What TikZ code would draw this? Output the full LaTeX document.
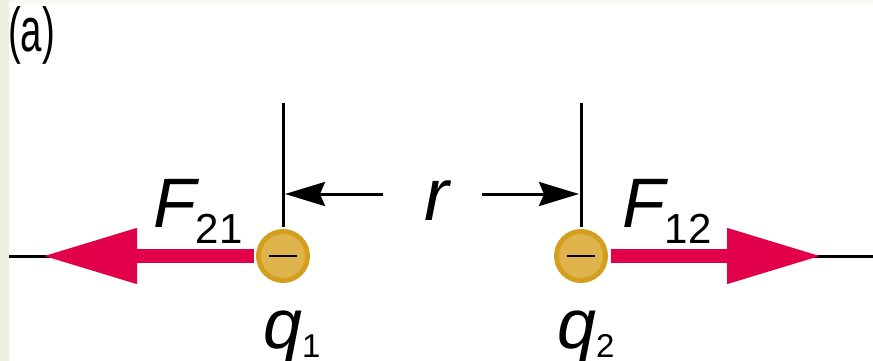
\documentclass[tikz,border=0pt]{standalone}
\usepackage{fontspec}
\setmainfont{Liberation Sans}
\usetikzlibrary{arrows.meta, positioning}
\definecolor{forcered}{RGB}{226,0,74}
\definecolor{chargering}{RGB}{212,158,30}
\definecolor{chargefill}{RGB}{224,180,76}
\definecolor{edgegreen}{RGB}{237,241,222}
\newcommand{\subtxt}[1]{\raisebox{-16pt}{\fontsize{42}{42}\selectfont\upshape #1}}
\newcommand{\qsub}[1]{\raisebox{-9pt}{\fontsize{33}{33}\selectfont\upshape #1}}

\begin{document}
\begin{tikzpicture}[x=1pt, y=-1pt,
  every node/.style={inner sep=0pt, font=\fontsize{70}{70}\selectfont},
  charge/.style={circle, draw=chargering, fill=chargefill, line width=5pt, minimum size=49pt},
  force/.style={forcered, line width=14pt, shorten <=2.5pt, -{Triangle[length=95pt, width=52pt]}},
  gauge/.style={line width=3pt},
  dimline/.style={line width=3pt, -{Stealth[length=40pt, width=24pt, inset=5pt]}}]
  % page and margin strips
  \useasboundingbox (0,0) rectangle (873,361);
  \fill[white] (0,0) rectangle (873,361);
  \fill[edgegreen] (0,0) rectangle (9,361);
  \fill[edgegreen!40] (9,0) rectangle (873,3);

  \node[anchor=base west, xscale=0.62, font=\fontsize{62}{62}\selectfont] (tag) at (8,52) {(a)};

  % Charges
  \node (q1) [charge] at (283,256) {\rule[-1.25pt]{28pt}{2.5pt}};
  \node (q2) [charge] at (581,256) {\rule[-1.25pt]{28pt}{2.5pt}};

  % Axis ends and gauge tops
  \coordinate (axisL) at (9,256);
  \coordinate (tipL) at (42,256);
  \coordinate (underL) at (70,256);
  \coordinate (tipR) at (822,256);
  \coordinate (underR) at (795,256);
  \coordinate (axisR) at (873,256);
  \coordinate (topL) at (283,103);
  \coordinate (topR) at (581,103);
  \coordinate (startL) at (383,194);
  \coordinate (endL) at (285,194);
  \coordinate (startR) at (482,194);
  \coordinate (endR) at (579,194);

  % Forces
  \draw[gauge] (axisL) -- (underL);
  \draw[gauge] (underR) -- (axisR);
  \draw[force] (q1.west) -- (tipL);
  \draw[force] (q2.east) -- (tipR);

  % Separation r
  \draw[gauge, shorten <=2.5pt] (q1.north) -- (topL);
  \draw[gauge, shorten <=2.5pt] (q2.north) -- (topR);
  \draw[dimline] (startL) -- (endL);
  \draw[dimline] (startR) -- (endR);
  \node[anchor=base, font=\fontsize{74}{74}\selectfont] (rlabel) at (437,220) {\itshape r};

  % Labels
  \node[anchor=base west] (f21) at (153,227) {\itshape F\subtxt{21}};
  \node[anchor=base west] (f12) at (622,227) {\itshape F\subtxt{12}};
  \node[anchor=base west] (q1label) at (263,348) {\itshape q\qsub{1}};
  \node[anchor=base west] (q2label) at (557,348) {\itshape q\qsub{2}};
\end{tikzpicture}
\end{document}
